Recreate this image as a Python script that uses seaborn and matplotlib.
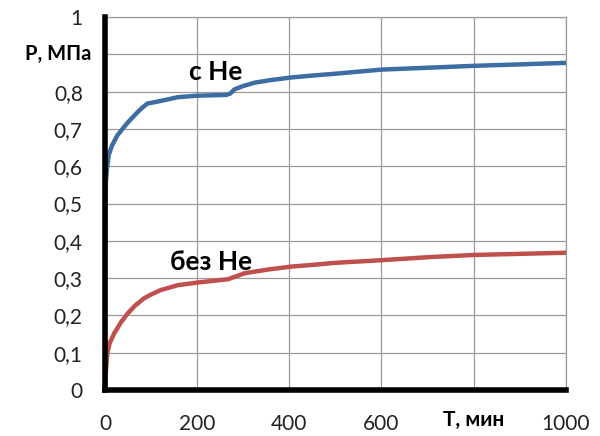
import matplotlib
matplotlib.use("Agg")
import matplotlib.pyplot as plt
import seaborn as sns
import pandas as pd

# Pressure vs time, with helium
t_he = [0, 0.3, 1, 2, 4, 8, 15, 27, 40, 50, 60, 70, 80, 92, 105, 121, 158, 200,
        230, 263, 272, 281, 300, 325, 360, 405, 450, 500, 600, 700, 800, 900, 1000]
p_he = [0, 0.30, 0.50, 0.56, 0.59, 0.63, 0.655, 0.683, 0.703, 0.718, 0.731, 0.744,
        0.756, 0.768, 0.771, 0.775, 0.785, 0.789, 0.790, 0.791, 0.795, 0.806, 0.815,
        0.824, 0.831, 0.838, 0.843, 0.848, 0.859, 0.864, 0.869, 0.873, 0.877]

# Pressure vs time, without helium
t_no = [0, 1, 2, 5, 10, 20, 35, 49, 65, 85, 100, 121, 158, 200, 230, 267, 285,
        303, 354, 405, 456, 500, 600, 700, 800, 900, 1000]
p_no = [0, 0.03, 0.05, 0.098, 0.125, 0.152, 0.182, 0.205, 0.226, 0.246, 0.256,
        0.268, 0.281, 0.288, 0.292, 0.297, 0.305, 0.313, 0.323, 0.331, 0.336,
        0.341, 0.348, 0.356, 0.362, 0.365, 0.368]

x_ticks = [0, 200, 400, 600, 800, 1000]
x_labels = ["0", "200", "400", "600", "", "1000"]
y_ticks = [0, 0.1, 0.2, 0.3, 0.4, 0.5, 0.6, 0.7, 0.8, 0.9, 1.0]
y_labels = ["0", "0,1", "0,2", "0,3", "0,4", "0,5", "0,6", "0,7", "0,8", "", "1"]

sns.set_theme(style="whitegrid")
plt.rcParams["font.family"] = ["Lato", "DejaVu Sans"]

fig = plt.figure(figsize=(6.0, 4.36), dpi=100)
ax = fig.add_axes([0.175, 0.1055, 0.768, 0.8555])

df_he = pd.DataFrame({"t": t_he, "p": p_he})
df_no = pd.DataFrame({"t": t_no, "p": p_no})
sns.lineplot(data=df_he, x="t", y="p", ax=ax, color="#3D6DA2", linewidth=3.2,
             estimator=None, sort=False, zorder=4)
sns.lineplot(data=df_no, x="t", y="p", ax=ax, color="#C0504D", linewidth=3.2,
             estimator=None, sort=False, zorder=4)

ax.set_xlim(0, 1000)
ax.set_ylim(0, 1)
ax.set_xticks(x_ticks)
ax.set_xticklabels(x_labels)
ax.set_yticks(y_ticks)
ax.set_yticklabels(y_labels)
ax.set_xlabel("")
ax.set_ylabel("")

ax.grid(True, color="#9a9a9a", linewidth=0.9)
ax.set_facecolor("white")
for side in ("top", "right"):
    ax.spines[side].set_color("#9a9a9a")
    ax.spines[side].set_linewidth(0.9)
for side in ("left", "bottom"):
    ax.spines[side].set_color("black")
    ax.spines[side].set_linewidth(4.0)
    ax.spines[side].set_zorder(5)

ax.tick_params(axis="both", which="major", direction="out", length=4, width=4,
               color="black", labelsize=15, labelcolor="#222222")
ax.tick_params(axis="y", pad=12)
ax.tick_params(axis="x", pad=13)

# Axis titles placed in the slots of the hidden tick labels
ax.text(-0.03, 0.9, "P, МПа", transform=ax.get_yaxis_transform(),
        ha="right", va="center", fontsize=14.5, fontweight="bold", color="black")
ax.text(800, -0.08, "T, мин", transform=ax.get_xaxis_transform(),
        ha="center", va="center", fontsize=15, fontweight="bold", color="black")

# Series labels
ax.text(240, 0.853, "с Не", ha="center", va="center", fontsize=19,
        fontweight="bold", color="black", zorder=6)
ax.text(230, 0.343, "без Не", ha="center", va="center", fontsize=19,
        fontweight="bold", color="black", zorder=6)

fig.savefig("out.png", dpi=100, facecolor="white")
